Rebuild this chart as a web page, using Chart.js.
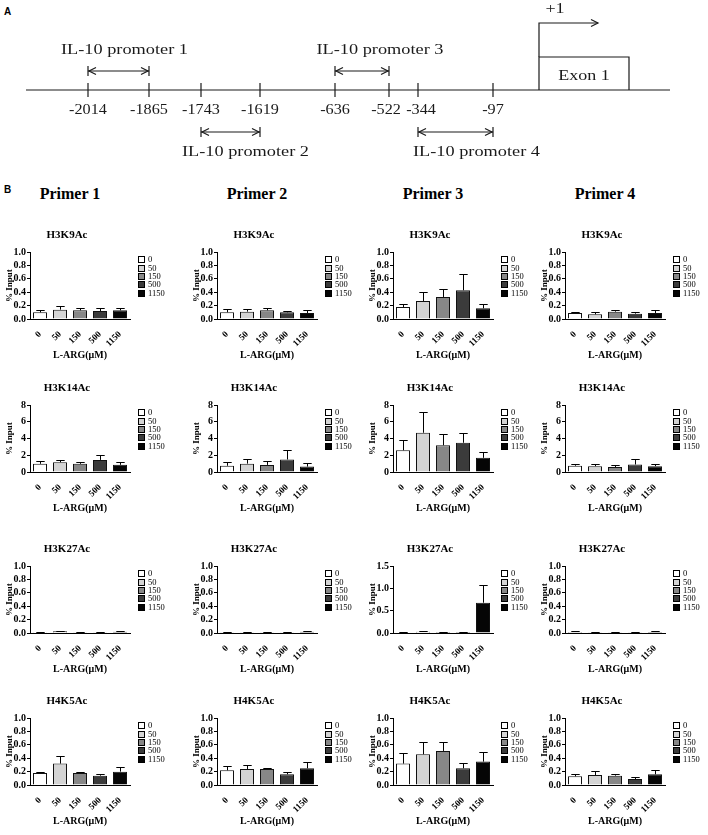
<!DOCTYPE html>
<html>
<head>
<meta charset="utf-8">
<script src="https://cdn.jsdelivr.net/npm/chart.js@4.4.0/dist/chart.umd.min.js"></script>
<style>
  body { margin: 0; background: #fff; width: 708px; height: 835px; position: relative; overflow: hidden;
         font-family: 'Liberation Serif', 'Times New Roman', serif; }
  canvas { position: absolute; }
  .panel { position: absolute; font-family: 'Liberation Sans', Arial, sans-serif; font-weight: bold; font-size: 10px; }
  .primer { position: absolute; font-weight: bold; font-size: 16px; white-space: nowrap; transform: translateX(-50%); }
</style>
</head>
<body>
<div class="panel" style="left:4px;top:6px">A</div>
<canvas id="map" width="708" height="170" style="left:0;top:0"></canvas>
<div class="panel" style="left:4px;top:184px">B</div>
<div id="grid"></div>

<script>
/* ---------- Panel A: IL-10 promoter map ---------- */
const siteLabels = ['-2014', '-1865', '-1743', '-1619', '-636', '-522', '-344', '-97'];
const sitePos = [88, 149, 201, 260, 335, 389, 418, 493];   // schematic spacing along the drawn line
const ampliconNames = ['IL-10 promoter 1', 'IL-10 promoter 2', 'IL-10 promoter 3', 'IL-10 promoter 4'];
const ampliconFrom = [0, 2, 4, 6];
const ampliconTo = [1, 3, 5, 7];
const ampliconAbove = [true, false, true, false];

/* ---------- Panel B: ChIP-qPCR, % input ---------- */
const doseLabels = ['0', '50', '150', '500', '1150'];
const doseColors = ['#ffffff', '#d4d4d4', '#878787', '#3b3b3b', '#050505'];
const primerNames = ['Primer 1', 'Primer 2', 'Primer 3', 'Primer 4'];
const markNames = ['H3K9Ac', 'H3K14Ac', 'H3K27Ac', 'H4K5Ac'];

// one row per primer (1..4), one value per dose
const h3k9acMean = [[0.10, 0.14, 0.13, 0.12, 0.13], [0.10, 0.11, 0.13, 0.10, 0.09], [0.18, 0.27, 0.33, 0.43, 0.16], [0.09, 0.07, 0.11, 0.08, 0.09]];
const h3k9acSem  = [[0.04, 0.05, 0.04, 0.04, 0.03], [0.05, 0.04, 0.03, 0.02, 0.04], [0.05, 0.14, 0.12, 0.25, 0.07], [0.02, 0.03, 0.02, 0.02, 0.04]];
const h3k14acMean = [[0.98, 1.17, 0.98, 1.45, 0.86], [0.75, 1.0, 0.85, 1.5, 0.65], [2.6, 4.7, 3.2, 3.5, 1.7], [0.75, 0.7, 0.6, 0.9, 0.7]];
const h3k14acSem  = [[0.39, 0.31, 0.27, 0.62, 0.39], [0.45, 0.5, 0.45, 1.1, 0.45], [1.2, 2.5, 1.4, 1.2, 0.7], [0.25, 0.3, 0.2, 0.6, 0.3]];
const h3k27acMean = [[0.012, 0.025, 0.01, 0.01, 0.02], [0.01, 0.01, 0.01, 0.012, 0.02], [0.01, 0.03, 0.02, 0.02, 0.68], [0.015, 0.01, 0.01, 0.01, 0.015]];
const h3k27acSem  = [[0.004, 0.012, 0.004, 0.004, 0.005], [0.005, 0.005, 0.003, 0.004, 0.01], [0.005, 0.02, 0.008, 0.01, 0.39], [0.008, 0.004, 0.004, 0.004, 0.008]];
const h4k5acMean = [[0.18, 0.32, 0.18, 0.14, 0.20], [0.22, 0.24, 0.24, 0.16, 0.25], [0.32, 0.46, 0.51, 0.25, 0.35], [0.13, 0.15, 0.14, 0.09, 0.16]];
const h4k5acSem  = [[0.02, 0.11, 0.02, 0.03, 0.07], [0.06, 0.06, 0.01, 0.03, 0.09], [0.16, 0.18, 0.14, 0.08, 0.15], [0.03, 0.06, 0.03, 0.03, 0.07]];

const yMax  = [[1, 1, 1, 1], [8, 8, 8, 8], [1, 1, 1.5, 1], [1, 1, 1, 1]];
const yStep = [[0.2, 0.2, 0.2, 0.2], [2, 2, 2, 2], [0.2, 0.2, 0.5, 0.2], [0.2, 0.2, 0.2, 0.2]];

const SERIF = "'Liberation Serif', 'Times New Roman', serif";
const INK = '#1a1a1a';

// layout of the 4x4 grid (left edge of each y axis, top of each plot area)
const colAxisX = [30, 217, 393, 565];
const rowPlotTop = [252, 405, 566, 718];

/* ---------- promoter map ---------- */
const L = { line: 0, tick: 0.35, upArrow: 0.95, upText: 2.0, lowArrow: -2.1, lowText: -3.1,
            siteText: -1.0, exonTop: 1.65, exonText: 0.7, tss: 3.35, plusText: 4.05, endBar: 0.25 };
const exonX = [539, 629];
const tssTip = 598;
const lineX = [26, 670];
const siteNudge = [0, 0, 0, 0, 0, -3, 3, 0];
const ampliconTextShift = [6, 15, 18, 21];

function seg(x1, y1, x2, y2) {
  return { data: [{ x: x1, y: y1 }, { x: x2, y: y2 }], showLine: true, pointRadius: 0,
           borderColor: INK, borderWidth: 1.2, fill: false };
}

const mapSets = [seg(lineX[0], L.line, lineX[1], L.line)];
sitePos.forEach(p => mapSets.push(seg(p, -L.tick, p, L.tick)));
ampliconNames.forEach((n, i) => {
  const y = ampliconAbove[i] ? L.upArrow : L.lowArrow;
  const a = sitePos[ampliconFrom[i]], b = sitePos[ampliconTo[i]];
  mapSets.push(seg(a, y, b, y));
  mapSets.push(seg(a, y - L.endBar, a, y + L.endBar));
  mapSets.push(seg(b, y - L.endBar, b, y + L.endBar));
});
mapSets.push({ data: [{ x: exonX[0], y: L.line }, { x: exonX[0], y: L.exonTop }, { x: exonX[1], y: L.exonTop }, { x: exonX[1], y: L.line }],
               showLine: true, pointRadius: 0, borderColor: INK, borderWidth: 1.2, fill: false });
mapSets.push({ data: [{ x: exonX[0], y: L.exonTop }, { x: exonX[0], y: L.tss }, { x: tssTip, y: L.tss }],
               showLine: true, pointRadius: 0, borderColor: INK, borderWidth: 1.2, fill: false });

function wideText(ctx, text, x, y, sx) {
  ctx.save();
  ctx.translate(x, y);
  ctx.scale(sx, 1);
  ctx.fillText(text, 0, 0);
  ctx.restore();
}

function arrowHead(ctx, x, y, dir) {
  ctx.beginPath();
  ctx.moveTo(x - dir * 7, y - 3.5);
  ctx.lineTo(x, y);
  ctx.lineTo(x - dir * 7, y + 3.5);
  ctx.stroke();
}

const mapLabels = {
  id: 'mapLabels',
  afterDatasetsDraw(chart) {
    const { ctx, scales: { x, y } } = chart;
    ctx.save();
    ctx.fillStyle = INK;
    ctx.strokeStyle = INK;
    ctx.lineWidth = 1.2;
    ctx.font = '15px ' + SERIF;
    ctx.textAlign = 'center';
    ctx.textBaseline = 'middle';
    siteLabels.forEach((t, i) =>
      wideText(ctx, t, x.getPixelForValue(sitePos[i]) + siteNudge[i], y.getPixelForValue(L.siteText), 1.08));
    ampliconNames.forEach((n, i) => {
      const a = x.getPixelForValue(sitePos[ampliconFrom[i]]);
      const b = x.getPixelForValue(sitePos[ampliconTo[i]]);
      const ay = y.getPixelForValue(ampliconAbove[i] ? L.upArrow : L.lowArrow);
      arrowHead(ctx, a + 1, ay, -1);
      arrowHead(ctx, b - 1, ay, 1);
      const ty = y.getPixelForValue(ampliconAbove[i] ? L.upText : L.lowText);
      wideText(ctx, n, (a + b) / 2 + ampliconTextShift[i], ty, 1.22);
    });
    arrowHead(ctx, x.getPixelForValue(tssTip), y.getPixelForValue(L.tss), 1);
    wideText(ctx, 'Exon 1', x.getPixelForValue((exonX[0] + exonX[1]) / 2), y.getPixelForValue(L.exonText), 1.2);
    wideText(ctx, '+1', x.getPixelForValue(exonX[0] + 16), y.getPixelForValue(L.plusText), 1.2);
    ctx.restore();
  }
};

new Chart(document.getElementById('map'), {
  type: 'scatter',
  data: { datasets: mapSets },
  options: {
    responsive: false,
    animation: false,
    layout: { padding: 0 },
    plugins: { legend: { display: false }, tooltip: { enabled: false } },
    scales: {
      x: { type: 'linear', min: 0, max: 708, display: false },
      y: { type: 'linear', min: -4, max: 4.5, display: false }
    }
  },
  plugins: [mapLabels]
});

/* ---------- bar charts ---------- */
const errorBars = {
  id: 'errorBars',
  afterDatasetsDraw(chart) {
    const { ctx, scales: { y } } = chart;
    const ds = chart.data.datasets[0];
    const meta = chart.getDatasetMeta(0);
    ctx.save();
    ctx.strokeStyle = '#000';
    ctx.lineWidth = 1;
    meta.data.forEach((bar, i) => {
      const top = Math.round(y.getPixelForValue(ds.data[i] + ds.sem[i])) + 0.5;
      const cx = Math.round(bar.x) + 0.5;
      const cap = bar.width * 0.3;
      ctx.beginPath();
      ctx.moveTo(cx, bar.y);
      ctx.lineTo(cx, top);
      ctx.moveTo(cx - cap, top);
      ctx.lineTo(cx + cap, top);
      ctx.stroke();
    });
    ctx.restore();
  }
};

const doseLegend = {
  id: 'doseLegend',
  afterDraw(chart) {
    const { ctx, chartArea } = chart;
    const ds = chart.data.datasets[0];
    const x0 = Math.round(chartArea.right) + 8;
    const y0 = chartArea.top + 4;
    ctx.save();
    ctx.font = '8.5px ' + SERIF;
    ctx.textBaseline = 'middle';
    chart.data.labels.forEach((lab, i) => {
      const yy = Math.round(y0 + i * 8.4);
      ctx.fillStyle = ds.backgroundColor[i];
      ctx.fillRect(x0, yy, 6, 6);
      ctx.strokeStyle = '#000';
      ctx.lineWidth = 1;
      ctx.strokeRect(x0 + 0.5, yy + 0.5, 6, 6);
      ctx.fillStyle = '#000';
      ctx.fillText(lab, x0 + 10, yy + 3.5);
    });
    ctx.restore();
  }
};

const means = [h3k9acMean, h3k14acMean, h3k27acMean, h4k5acMean];
const sems = [h3k9acSem, h3k14acSem, h3k27acSem, h4k5acSem];
const grid = document.getElementById('grid');

primerNames.forEach((p, c) => {
  const d = document.createElement('div');
  d.className = 'primer';
  d.textContent = p;
  d.style.left = (colAxisX[c] + 40) + 'px';
  d.style.top = '185px';
  grid.appendChild(d);
});

markNames.forEach((mark, r) => {
  primerNames.forEach((p, c) => {
    const cv = document.createElement('canvas');
    cv.width = 166;
    cv.height = 140;
    cv.style.left = (colAxisX[c] - 26) + 'px';
    cv.style.top = (rowPlotTop[r] - 27) + 'px';
    grid.appendChild(cv);

    const step = yStep[r][c];
    const dec = step < 1 ? 1 : 0;

    new Chart(cv, {
      type: 'bar',
      data: {
        labels: doseLabels,
        datasets: [{
          data: means[r][c],
          sem: sems[r][c],
          backgroundColor: doseColors,
          borderColor: '#111',
          borderWidth: 1,
          barPercentage: 0.7,
          categoryPercentage: 1
        }]
      },
      options: {
        responsive: false,
        animation: false,
        layout: { padding: { left: 0, right: 40, top: 0, bottom: 0 } },
        plugins: {
          legend: { display: false },
          tooltip: { enabled: false },
          title: {
            display: true, text: mark, color: '#000',
            font: { family: SERIF, weight: 'bold', size: 11 },
            padding: { top: 4, bottom: 10 }
          }
        },
        scales: {
          x: {
            grid: { display: false },
            border: { display: true, color: '#000', width: 1 },
            ticks: { color: '#000', font: { family: SERIF, weight: 'bold', size: 9 },
                     minRotation: 45, maxRotation: 45, autoSkip: false, padding: 2 },
            title: { display: true, text: 'L-ARG(μM)', color: '#000',
                     font: { family: SERIF, weight: 'bold', size: 10 }, padding: { top: 0, bottom: 4 } },
            afterFit: s => { s.height = 46; }
          },
          y: {
            min: 0, max: yMax[r][c],
            grid: { drawOnChartArea: false, drawTicks: true, tickLength: 3, color: '#000' },
            border: { display: true, color: '#000', width: 1 },
            ticks: { stepSize: step, color: '#000', padding: 1, autoSkip: false,
                     font: { family: SERIF, weight: 'bold', size: 10 },
                     callback: v => v.toFixed(dec) },
            title: { display: true, text: '% Input', color: '#000',
                     font: { family: SERIF, weight: 'bold', size: 9 }, padding: 0 },
            afterFit: s => { s.width = 26; }
          }
        }
      },
      plugins: [errorBars, doseLegend]
    });
  });
});
</script>
</body>
</html>
